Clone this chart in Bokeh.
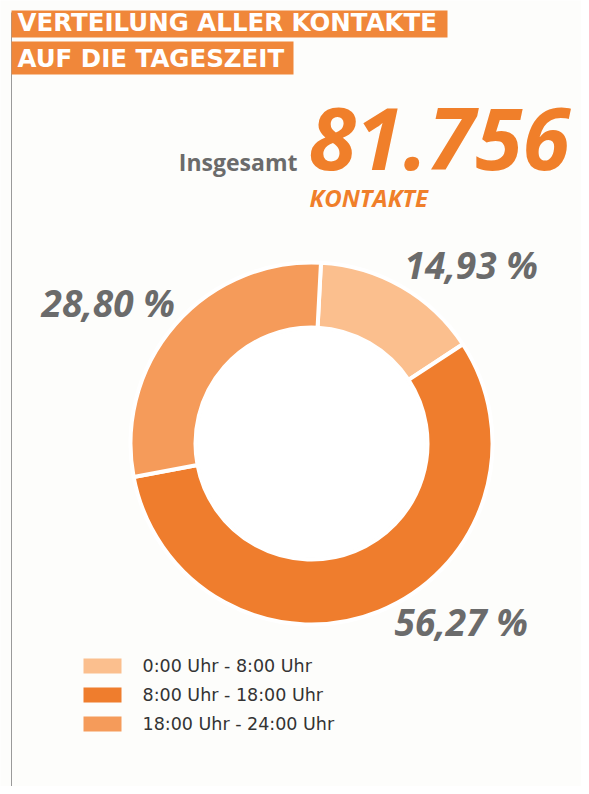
import math
from bokeh.plotting import figure
from bokeh.models import Range1d, ColumnDataSource
from bokeh.core.properties import value
from bokeh.embed import file_html
from bokeh.resources import INLINE

# ---- data ----
title_lines = ["VERTEILUNG ALLER KONTAKTE", "AUF DIE TAGESZEIT"]
total_prefix = "Insgesamt"
total_label = "81.756"
total_unit = "KONTAKTE"
categories = ["0:00 Uhr - 8:00 Uhr", "8:00 Uhr - 18:00 Uhr", "18:00 Uhr - 24:00 Uhr"]
shares = [14.93, 56.27, 28.80]
pct_labels = ["14,93 %", "56,27 %", "28,80 %"]
colors = ["#fbbf8e", "#ef7d2d", "#f59b5a"]

# ---- layout ----
BG = "#fdfdfb"
ORANGE = "#f0873a"
GRAY = "#6b6b6b"
W, H = 581, 786
p = figure(width=W, height=H, x_range=Range1d(0, W), y_range=Range1d(-H, 0),
           output_backend="svg", toolbar_location=None, min_border=0)
p.axis.visible = False
p.grid.visible = False
p.outline_line_color = None
p.background_fill_color = BG
p.border_fill_color = BG

# left rule
p.segment(x0=[11], y0=[-12], x1=[11], y1=[-800], line_color="#9a9a9a", line_width=1)

# title boxes
box_right = [447, 293]
box_top = [10, 41]
box_bot = [37, 74]
p.quad(left=[11, 11], right=box_right, top=[-t for t in box_top], bottom=[-b for b in box_bot],
       fill_color=ORANGE, line_color=None)
p.text(x=[17, 17], y=[-22, -58], text=title_lines, text_color="white",
       text_font=value("DejaVu Sans"), text_font_style="bold", text_font_size="24.5px",
       text_baseline="middle")

# total
p.text(x=[297], y=[-161], text=[total_prefix], text_color=GRAY, text_align="right",
       text_font=value("Open Sans"), text_font_style="bold", text_font_size="23px",
       text_baseline="middle")
p.text(x=[308], y=[-138], text=[total_label], text_color="#f07f2a",
       text_font=value("Open Sans"), text_font_style="bold italic", text_font_size="86px",
       text_baseline="middle")
p.text(x=[309], y=[-197], text=[total_unit], text_color="#f07f2a",
       text_font=value("Open Sans"), text_font_style="bold italic", text_font_size="24px",
       text_baseline="middle")

# donut
cx, cy = 311, -443
r_out, r_in = 181, 116
start0 = math.radians(87)
tot = sum(shares)
starts, ends = [], []
acc = 0.0
for s in shares:
    starts.append(start0 - 2 * math.pi * acc / tot)
    acc += s
    ends.append(start0 - 2 * math.pi * acc / tot)
src = ColumnDataSource(dict(start=starts, end=ends, color=colors))
p.annular_wedge(x=cx, y=cy, inner_radius=r_in, outer_radius=r_out,
                start_angle="start", end_angle="end", direction="clock",
                fill_color="color", line_color="white", line_width=4, source=src)
p.circle(x=[cx], y=[cy], radius=r_in - 2, fill_color="white", line_color=None)

# percentage labels
lab_x = [404, 394, 41]
lab_y = [-264, -621, -302]
p.text(x=lab_x, y=lab_y, text=pct_labels, text_color=GRAY,
       text_font=value("Open Sans"), text_font_style="bold italic", text_font_size="37px",
       text_baseline="middle")

# legend
leg_y = [665.5, 694.5, 723.5]
p.rect(x=[102] * 3, y=[-v for v in leg_y], width=38, height=15, fill_color=colors, line_color=None)
p.text(x=[142] * 3, y=[-v for v in leg_y], text=categories, text_color="#333333",
       text_font=value("DejaVu Sans"), text_font_size="17.5px", text_baseline="middle")

open("out.html", "w").write(file_html(p, INLINE))
